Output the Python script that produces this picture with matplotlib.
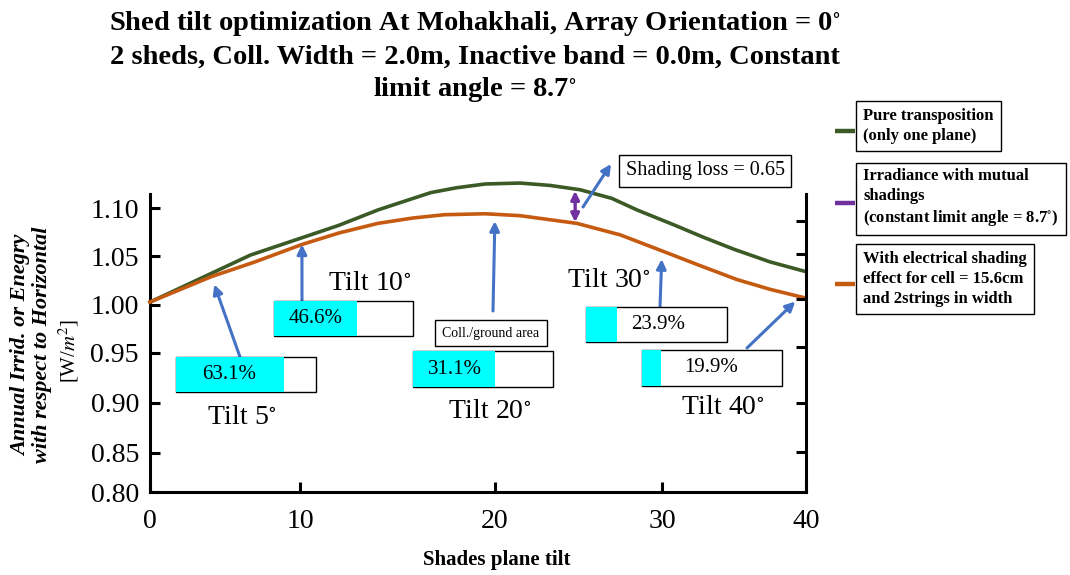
import matplotlib.pyplot as plt
import numpy as np
from matplotlib.lines import Line2D
from matplotlib.patches import Rectangle

plt.rcParams["font.family"] = ["Liberation Serif", "DejaVu Serif"]
plt.rcParams["mathtext.fontset"] = "stix"

# shades plane tilt [deg] vs annual irradiance w.r.t. horizontal
tilt_pure = [0, 6.7, 10.1, 12.0, 14.0, 16.7, 18.0, 19.5, 21.5, 23.3, 25.1,
             27.0, 28.5, 30.9, 32.8, 35.0, 37.5, 40]
irr_pure = [1.003, 1.051, 1.069, 1.082, 1.098, 1.116, 1.121, 1.125, 1.126,
            1.1235, 1.119, 1.110, 1.098, 1.082, 1.070, 1.057, 1.044, 1.034]
tilt_elec = [0, 4.1, 7.0, 10.1, 12.0, 14.0, 15.8, 17.4, 19.5, 21.5, 24.9,
             27.5, 29.9, 32.5, 35.2, 37.5, 40]
irr_elec = [1.003, 1.029, 1.044, 1.062, 1.074, 1.084, 1.0896, 1.093, 1.094,
            1.092, 1.084, 1.072, 1.056, 1.041, 1.026, 1.016, 1.007]

# tilt call-outs: arrow target tilt, coll./ground area ratio, cyan share of the bar
tilt_names = ["Tilt 5", "Tilt 10", "Tilt 20", "Tilt 30", "Tilt 40"]
tip_tilt = [4.1, 10.1, 20.0, 30.0, 39.6]
area_pct = ["63.1%", "46.6%", "31.1%", "23.9%", "19.9%"]
cyan_frac = [0.77, 0.60, 0.585, 0.22, 0.135]
shading_loss = 0.65
loss_tilt = 24.8

x_ticks = [0, 10, 20, 30, 40]
y_ticks = [0.80, 0.85, 0.90, 0.95, 1.00, 1.05, 1.10]
right_ticks = [0.851, 0.90, 0.956, 1.006, 1.052, 1.086]

GREEN = "#3b5a26"
ORANGE = "#c55a11"
PURPLE = "#7030a0"
BLUE = "#4472c4"
CYAN = "#00ffff"

W, H = 1070, 575

# the hand-drawn axes are not evenly spaced: piecewise mapping to pixels
X_VAL = [-10, 0, 10, 20, 30, 40, 50]
X_POS = [-150, 0, 150, 345, 512, 656, 800]
Y_VAL = [0.75, 0.80, 0.85, 0.90, 0.95, 1.00, 1.05, 1.10, 1.15]
Y_POS = [-39, 0, 39, 89, 139, 187, 236, 284, 332]


def xf(v):
    return np.interp(v, X_VAL, X_POS)


def xi(p):
    return np.interp(p, X_POS, X_VAL)


def yf(v):
    return np.interp(v, Y_VAL, Y_POS)


def yi(p):
    return np.interp(p, Y_POS, Y_VAL)


def fpx(x, y):
    return x / W, 1 - y / H


fig = plt.figure(figsize=(W / 100, H / 100), dpi=100)
y_top = 1.135
ax = fig.add_axes([150 / W, 83 / H, 656 / W, float(yf(y_top)) / H])
ax.set_xscale("function", functions=(xf, xi))
ax.set_yscale("function", functions=(yf, yi))
ax.set_xlim(0, 40)
ax.set_ylim(0.80, y_top)

ax.plot(tilt_pure, irr_pure, color=GREEN, lw=2.6, clip_on=False, zorder=3)
ax.plot(tilt_elec, irr_elec, color=ORANGE, lw=2.6, clip_on=False, zorder=3)

ax.set_xticks(x_ticks)
ax.set_xticklabels([str(t) for t in x_ticks])
ax.set_yticks(y_ticks)
ax.set_yticklabels([f"{t:.2f}" for t in y_ticks])
ax.tick_params(axis="both", direction="in", length=7, width=2.2, labelsize=20)
ax.tick_params(axis="x", pad=12)
ax.tick_params(axis="y", pad=8)
ax.spines["top"].set_visible(False)
ax.spines["right"].set_visible(False)
for s in ("left", "bottom"):
    ax.spines[s].set_linewidth(2.2)
ax.spines["left"].set_bounds(0.80, 1.115)

ax2 = ax.twinx()
ax2.set_yscale("function", functions=(yf, yi))
ax2.set_ylim(0.80, y_top)
ax2.set_yticks(right_ticks)
ax2.tick_params(axis="y", direction="in", length=7, width=2.2, labelright=False)
for s in ("left", "top", "bottom"):
    ax2.spines[s].set_visible(False)
ax2.spines["right"].set_linewidth(2.2)
ax2.spines["right"].set_bounds(0.80, 1.115)

# shading loss double arrow between the two curves
g = np.interp(loss_tilt, tilt_pure, irr_pure)
o = np.interp(loss_tilt, tilt_elec, irr_elec)
ax.annotate("", xy=(loss_tilt, g - 0.002), xytext=(loss_tilt, o + 0.001),
            arrowprops=dict(arrowstyle="<|-|>", color=PURPLE, lw=2.4,
                            mutation_scale=12, shrinkA=0, shrinkB=0))
ax.annotate("", xy=fpx(611, 164), xytext=fpx(583, 207),
            xycoords="figure fraction", textcoords="figure fraction",
            arrowprops=dict(arrowstyle="-|>", color=BLUE, lw=2.2,
                            mutation_scale=14, shrinkA=0, shrinkB=0))
fig.text(*fpx(705, 171), f"Shading loss = {shading_loss:.2f}", fontsize=14.5,
         ha="center", va="center",
         bbox=dict(boxstyle="square,pad=0.3", fc="white", ec="black", lw=1))

# tilt call-outs
tail_px = [(240, 357), (302, 301), (493, 311), (660, 307), (747, 348)]
shrink = [6, 0, 5, 6, 5]
label_px = [(242, 418), (370, 283), (490, 412), (609, 281), (723, 408)]
box_px = [(176, 357, 140, 35), (274, 301, 139, 35), (413, 351, 140, 36),
          (586, 307, 141, 35), (642, 350, 140, 36)]
text_x = [229, 316, 455, 658, 711]

for i, name in enumerate(tilt_names):
    tx = tip_tilt[i]
    ty = np.interp(tx, tilt_elec, irr_elec)
    ax.annotate("", xy=(tx, ty), xytext=fpx(*tail_px[i]),
                textcoords="figure fraction",
                arrowprops=dict(arrowstyle="-|>", color=BLUE, lw=2.2,
                                mutation_scale=14, shrinkA=0,
                                shrinkB=shrink[i]))
    fig.text(*fpx(*label_px[i]), name + r"$^{\circ}$", fontsize=20,
             ha="center", va="center")
    bx, by, bw, bh = box_px[i]
    x0, y0 = fpx(bx, by + bh)
    fig.add_artist(Rectangle((x0, y0), bw / W, bh / H, transform=fig.transFigure,
                             fc="white", ec="black", lw=1, zorder=4))
    fig.add_artist(Rectangle((x0, y0), bw * cyan_frac[i] / W, bh / H,
                             transform=fig.transFigure, fc=CYAN, ec="none",
                             zorder=5))
    fig.text(*fpx(text_x[i], by + bh / 2), area_pct[i], fontsize=15,
             ha="center", va="center", zorder=6)

fig.text(*fpx(491, 333), "Coll./ground area", fontsize=10, ha="center",
         va="center",
         bbox=dict(boxstyle="square,pad=0.5", fc="white", ec="black", lw=1))

# titles and axis labels
fig.text(*fpx(475, 57),
         "Shed tilt optimization At Mohakhali, Array Orientation = 0$^{\\circ}$\n"
         "2 sheds, Coll. Width = 2.0m, Inactive band = 0.0m, Constant\n"
         "limit angle = 8.7$^{\\circ}$",
         fontsize=20.5, fontweight="bold", ha="center", va="center",
         linespacing=1.3)
fig.text(*fpx(497, 560), "Shades plane tilt", fontsize=15, fontweight="bold",
         ha="center", va="center")
fig.text(*fpx(32, 345), "Annual Irrid. or Enegry\nwith respect to Horizontal",
         fontsize=16, fontweight="bold", style="italic", rotation=90,
         ha="center", va="center", linespacing=1.05)
fig.text(*fpx(69, 351), "[W/$m^2$]", fontsize=15, rotation=90,
         ha="center", va="center")

# legend: coloured stub left of each boxed description
legend_items = [
    (GREEN, 126, "Pure transposition\n(only one plane)"),
    (PURPLE, 198, "Irradiance with mutual\nshadings\n(constant limit angle = 8.7$^{\\circ}$)"),
    (ORANGE, 279, "With electrical shading\neffect for cell = 15.6cm\nand 2strings in width"),
]
for color, yc, label in legend_items:
    x0, y0 = fpx(835, yc + 5)
    x1, _ = fpx(855, yc + 5)
    fig.add_artist(Line2D([x0, x1], [y0, y0], transform=fig.transFigure,
                          color=color, lw=3.2, solid_capstyle="butt"))
    fig.text(*fpx(863, yc), label, fontsize=12, fontweight="bold",
             ha="left", va="center", linespacing=1.3,
             bbox=dict(boxstyle="square,pad=0.45", fc="white", ec="black", lw=1))

fig.savefig("out.png", dpi=100)
